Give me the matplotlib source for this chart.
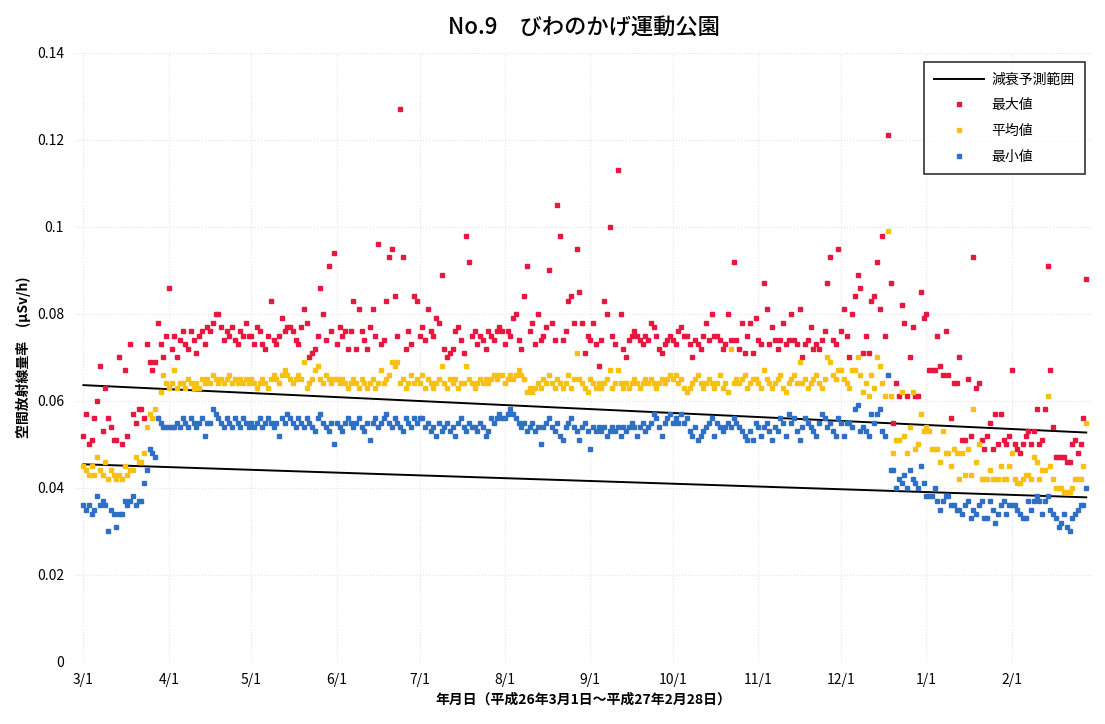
import numpy as np
import matplotlib
matplotlib.use("Agg")
import matplotlib.pyplot as plt

plt.rcParams['font.family'] = ['Noto Sans CJK JP', 'DejaVu Sans']

## daily values, unit 0.001 uSv/h, 2014/3/1 - 2015/2/28
max_vals = [
    52,57,50,51,56,60,68,53,63,56,54,51,51,70,50,67,52,73,57,55,58,58,56,73,69,67,69,78,73,70,75,  # Mar
    86,72,75,70,74,76,73,72,76,74,71,75,76,73,77,76,78,80,80,77,74,76,75,77,74,73,76,75,78,75,  # Apr
    75,73,77,76,73,72,75,83,74,73,75,79,76,77,77,76,74,73,77,81,78,70,71,72,75,86,80,74,91,76,94,  # May
    73,77,75,76,72,76,83,72,81,76,74,72,77,81,75,96,73,74,83,93,95,84,75,127,93,72,76,73,84,83,  # Jun
    75,77,74,81,76,75,79,78,89,72,70,71,72,76,77,74,71,98,92,75,76,73,75,74,72,76,75,74,76,77,76,  # Jul
    73,76,75,79,80,74,72,84,91,76,78,73,80,74,75,77,90,78,74,105,98,74,76,83,84,78,95,85,78,71,75,  # Aug
    74,78,73,68,74,83,80,100,75,73,113,80,72,70,74,75,76,75,74,73,75,74,78,77,75,72,71,73,74,75,  # Sep
    74,73,76,77,75,75,73,70,74,73,72,75,78,74,80,75,75,74,72,73,80,74,92,74,72,78,71,75,78,71,79,  # Oct
    74,73,87,81,73,77,74,72,74,78,73,74,80,74,73,81,70,73,74,77,72,73,72,74,76,87,93,74,73,95,  # Nov
    76,81,75,70,80,84,89,86,71,75,71,83,84,92,81,98,75,121,87,55,64,61,82,78,61,70,77,61,61,85,79,  # Dec
    80,67,67,67,75,68,66,76,66,56,64,64,70,51,51,65,52,93,63,64,51,49,52,55,49,57,50,57,51,50,52,  # Jan
    67,50,49,48,50,52,53,50,53,58,50,51,58,91,67,54,47,47,47,47,46,46,50,51,48,50,56,88,  # Feb
]
avg_vals = [
    45,44,43,45,43,47,44,43,46,42,44,43,42,43,42,45,43,44,44,47,46,46,48,54,57,56,58,56,62,66,64,
    63,64,67,63,64,64,63,65,64,63,64,63,65,64,65,64,66,65,64,65,64,65,66,64,65,64,65,64,65,64,
    65,64,63,64,65,64,63,65,66,65,64,66,67,66,65,64,65,66,65,69,63,64,65,67,68,65,64,66,65,64,65,
    65,64,65,64,63,64,65,64,63,65,64,63,64,65,63,64,67,64,65,66,69,68,69,64,65,63,64,66,64,65,
    64,66,63,65,64,63,64,65,68,64,63,65,64,65,63,64,64,68,65,64,63,64,65,64,65,64,65,66,65,66,66,
    64,65,66,65,66,67,66,65,62,63,62,63,64,63,65,64,66,64,63,65,64,63,64,66,63,65,71,65,64,63,62,
    65,64,63,64,63,64,65,67,63,64,67,64,63,64,63,64,65,64,63,64,65,64,65,64,63,64,65,64,65,66,
    65,66,64,65,63,62,63,64,65,66,64,63,64,65,64,63,64,66,63,64,62,72,64,65,64,65,66,63,64,65,65,
    64,63,67,65,64,63,64,65,66,63,62,64,65,66,64,69,64,65,63,64,65,66,64,63,65,70,69,66,65,67,
    67,65,64,63,67,67,70,66,62,64,61,66,63,70,68,64,61,99,61,48,51,51,62,52,48,54,62,49,50,57,53,
    54,53,49,49,49,46,53,48,48,45,49,48,42,48,43,49,43,58,46,50,42,42,42,44,42,42,42,45,42,42,45,
    48,42,41,41,42,43,43,42,47,46,42,44,44,61,45,42,40,40,40,39,39,39,40,42,42,42,45,55,
]
min_vals = [
    36,35,36,34,35,38,36,37,36,30,35,34,31,34,34,37,36,37,38,36,37,37,41,44,49,48,47,56,55,54,54,
    54,54,54,55,54,56,55,54,56,55,54,55,56,52,55,55,58,57,56,55,54,56,55,54,56,55,54,56,55,54,
    55,54,55,56,54,55,56,55,54,55,52,56,55,57,56,55,54,56,55,54,56,55,54,53,56,57,55,54,53,55,50,
    55,54,53,55,56,55,54,55,56,54,53,55,51,55,56,54,55,56,57,55,54,56,55,54,53,56,55,54,56,55,
    56,56,54,55,53,54,52,55,53,54,55,53,54,52,55,56,54,53,55,54,54,53,55,54,52,53,56,55,56,57,56,
    56,57,58,57,56,55,54,55,53,54,55,53,54,50,54,55,56,54,53,55,52,51,54,55,56,54,53,51,54,55,53,
    49,54,53,54,53,54,52,53,54,53,54,52,54,53,54,55,54,52,54,55,53,54,55,57,56,54,52,55,56,57,
    55,56,55,57,55,56,53,52,54,51,52,53,54,55,56,52,55,54,53,54,55,54,56,55,54,53,52,51,53,51,55,
    54,52,54,55,53,51,54,53,56,55,52,57,55,56,53,51,54,56,55,54,53,52,55,57,56,54,55,53,52,56,
    55,52,55,55,54,58,59,53,54,53,52,57,55,57,58,53,52,66,44,44,40,42,41,43,40,44,42,41,40,45,41,
    38,38,38,40,37,35,37,38,38,36,36,35,35,34,36,37,33,35,34,36,37,33,33,37,35,32,34,36,37,34,36,
    36,36,35,34,33,33,37,35,37,38,37,34,37,38,35,34,33,31,32,34,31,30,33,34,35,36,36,40,
]

# decay prediction range (start / end)
upper_line = [0.0636, 0.0527]
lower_line = [0.0454, 0.0378]

month_labels = ['3/1', '4/1', '5/1', '6/1', '7/1', '8/1', '9/1', '10/1', '11/1', '12/1', '1/1', '2/1']
month_days = [31, 30, 31, 30, 31, 31, 30, 31, 30, 31, 31, 28]

days = np.arange(len(max_vals))
month_starts = np.concatenate([[0], np.cumsum(month_days)[:-1]])

fig = plt.figure(figsize=(11.05, 7.24), dpi=100)
ax = fig.add_axes([0.068, 0.086, 0.92, 0.841])

ax.plot([days[0], days[-1]], upper_line, color='black', lw=1.4, label='減衰予測範囲')
ax.plot([days[0], days[-1]], lower_line, color='black', lw=1.4)
ax.plot(days, np.array(max_vals) / 1000, 's', ms=3, color='#E8173F', label='最大値')
ax.plot(days, np.array(avg_vals) / 1000, 's', ms=3, color='#F8C012', label='平均値')
ax.plot(days, np.array(min_vals) / 1000, 's', ms=3, color='#2F6FC6', label='最小値')

ax.set_xlim(-3, 366)
ax.set_ylim(0, 0.14)
ax.set_xticks(month_starts)
ax.set_xticklabels(month_labels, fontsize=10)
ax.set_yticks(np.arange(0, 0.141, 0.02))
ax.set_yticklabels(['0', '0.02', '0.04', '0.06', '0.08', '0.1', '0.12', '0.14'], fontsize=10)
ax.tick_params(length=0, pad=8)
for s in ax.spines.values():
    s.set_visible(False)
ax.grid(True, color='#e4e4e4', linestyle=':', lw=0.8)
ax.set_axisbelow(True)

ax.set_title('No.9　びわのかげ運動公園', fontsize=16, fontweight='medium', pad=14)
ax.set_ylabel('空間放射線量率　(μSv/h)', fontsize=10, fontweight='bold')
ax.set_xlabel('年月日（平成26年3月1日～平成27年2月28日）', fontsize=10, fontweight='bold', labelpad=4)

leg = ax.legend(loc='upper right', bbox_to_anchor=(0.993, 0.985), borderaxespad=0,
                fontsize=10, frameon=True, fancybox=False, edgecolor='black',
                labelspacing=0.85, handlelength=3.6, handletextpad=0.5,
                borderpad=0.75, markerscale=1.2)
leg.get_frame().set_linewidth(1.2)

fig.savefig('out.png', dpi=100)
